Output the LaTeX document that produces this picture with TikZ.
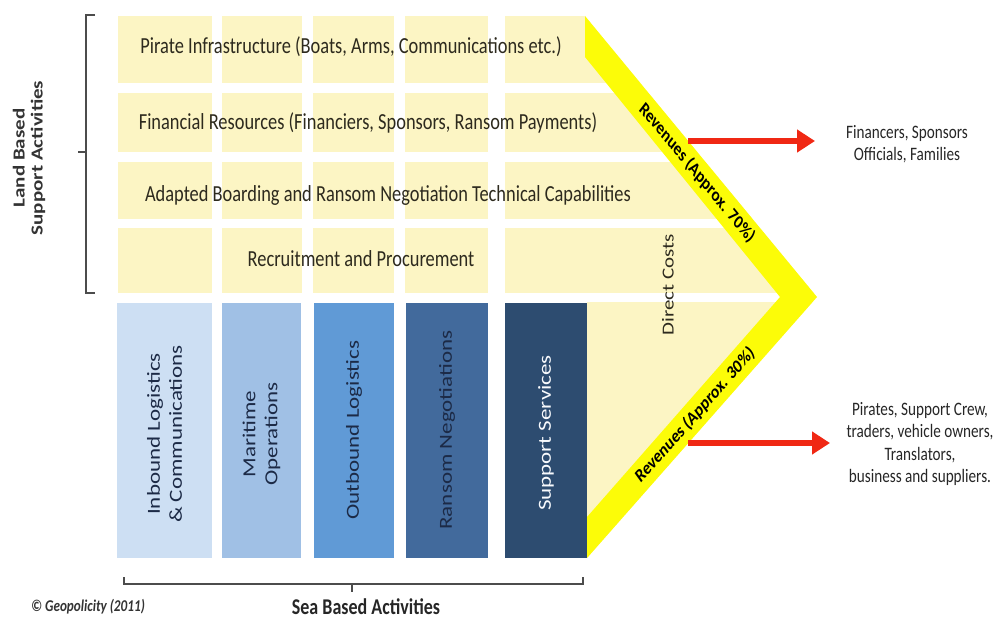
\documentclass[tikz,border=0pt]{standalone}
\usepackage{fontspec}
\setmainfont{Carlito}
\usetikzlibrary{arrows.meta}

\definecolor{cellyellow}{RGB}{252,245,196}
\definecolor{bandyellow}{RGB}{252,252,8}
\definecolor{barA}{RGB}{205,223,243}
\definecolor{barB}{RGB}{160,192,229}
\definecolor{barC}{RGB}{96,154,214}
\definecolor{barD}{RGB}{66,106,156}
\definecolor{barE}{RGB}{45,76,112}
\definecolor{barink}{RGB}{28,42,70}
\definecolor{arrowred}{RGB}{240,40,20}
\definecolor{ink}{RGB}{45,42,30}

\tikzset{
  squeeze/.style={xscale=0.8},
  rowtext/.style={squeeze, text=ink, font=\fontsize{23}{27}\selectfont},
  bartext/.style={squeeze, rotate=90, align=center, text=barink, font=\fontsize{23}{27.5}\selectfont},
  revtext/.style={squeeze, font=\bfseries\fontsize{19}{22}\selectfont},
  sidetext/.style={squeeze, align=center, text=black!85, font=\fontsize{19}{22.5}\selectfont},
  revarrow/.style={draw=arrowred, line width=6pt, -{Triangle[width=22pt,length=18pt]}},
  bracket/.style={draw=black!70, line width=1.4pt}
}

\begin{document}
\begin{tikzpicture}[x=1pt, y=-1pt]
                    \useasboundingbox (0,0) rectangle (1008,626);

                    \foreach \xa/\xb in {118/212, 222/302, 313/394, 405/488}
                      \foreach \ya/\yb in {16/83, 93/152, 162/219, 228/293}
                        \fill[cellyellow] (\xa,\ya) rectangle (\xb,\yb);

                    \begin{scope}
                      \clip (505,16) -- (585,16) -- (817,297) -- (587,558) -- (505,558) -- cycle;
                      \foreach \ya/\yb in {16/83, 93/152, 162/219, 228/293}
                        \fill[cellyellow] (505,\ya) rectangle (830,\yb);
                      \fill[cellyellow] (587,302) rectangle (830,558);
                    \end{scope}

                    \fill[barA] (117,303) rectangle (212,558);
                    \fill[barB] (222,303) rectangle (301,558);
                    \fill[barC] (314,303) rectangle (394,558);
                    \fill[barD] (406,303) rectangle (488,558);
                    \fill[barE] (505,303) rectangle (587,558);

                    \fill[bandyellow] (585,16) -- (817,297) -- (587,558) -- (587,517) -- (780,297) -- (585,57) -- cycle;

                    \node (infra) [rowtext] at (351,47) {Pirate Infrastructure (Boats, Arms, Communications etc.)};
                    \node (finance) [rowtext] at (368,123) {Financial Resources (Financiers, Sponsors, Ransom Payments)};
                    \node (boarding) [rowtext] at (388,195) {Adapted Boarding and Ransom Negotiation Technical Capabilities};
                    \node (recruit) [rowtext] at (361,259) {Recruitment and Procurement};

                    \node (inbound) [bartext] at (164.5,434) {Inbound Logistics\\\& Communications};
                    \node (maritime) [bartext] at (261.5,434) {Maritime\\Operations};
                    \node (outbound) [bartext] at (354,430) {Outbound Logistics};
                    \node (ransom) [bartext] at (447,430) {Ransom Negotiations};
                    \node (support) [bartext, text=white!85!barA] at (546,433) {Support Services};

                    \node (direct) [squeeze, rotate=90, text=ink, font=\fontsize{21}{25}\selectfont] at (668,285) {Direct Costs};
                    \node (rev70) [revtext, rotate=-44] at (697,173) {Revenues (Approx. 70\%)};
                    \node (rev30) [revtext, rotate=42] at (695,415) {Revenues (Approx. 30\%)};

                    \node (fin) [sidetext] at (907,144) {Financers, Sponsors\\Officials, Families};
                    \node (crew) [sidetext] at (920,444) {Pirates, Support Crew,\\traders, vehicle owners,\\Translators,\\business and suppliers.};

                    \coordinate (out70) at (688,141);
                    \coordinate (tip70) at (815,141);
                    \coordinate (out30) at (688,443);
                    \coordinate (tip30) at (830,443);
                    \draw[revarrow] (out70) -- (tip70);
                    \draw[revarrow] (out30) -- (tip30);

                    \draw[bracket] (95,15) -- (86,15) -- (86,293) -- (95,293);
                    \draw[bracket] (86,152) -- (78,152);
                    \draw[bracket] (124,577) -- (124,584) -- (583,584) -- (583,577);
                    \draw[bracket] (352,584) -- (352,592);

                    \node (land) [squeeze, rotate=90, align=center, text=black!80, font=\bfseries\fontsize{21}{22.5}\selectfont] at (29,158) {Land Based\\Support Activities};
                    \node (sea) [squeeze, text=black!85, font=\bfseries\fontsize{22.5}{27}\selectfont] at (366,607) {Sea Based Activities};
                    \node (geo) [squeeze, text=black!80, font=\bfseries\itshape\fontsize{16.5}{19}\selectfont] at (88,607) {© Geopolicity (2011)};
                \end{tikzpicture}
\end{document}
